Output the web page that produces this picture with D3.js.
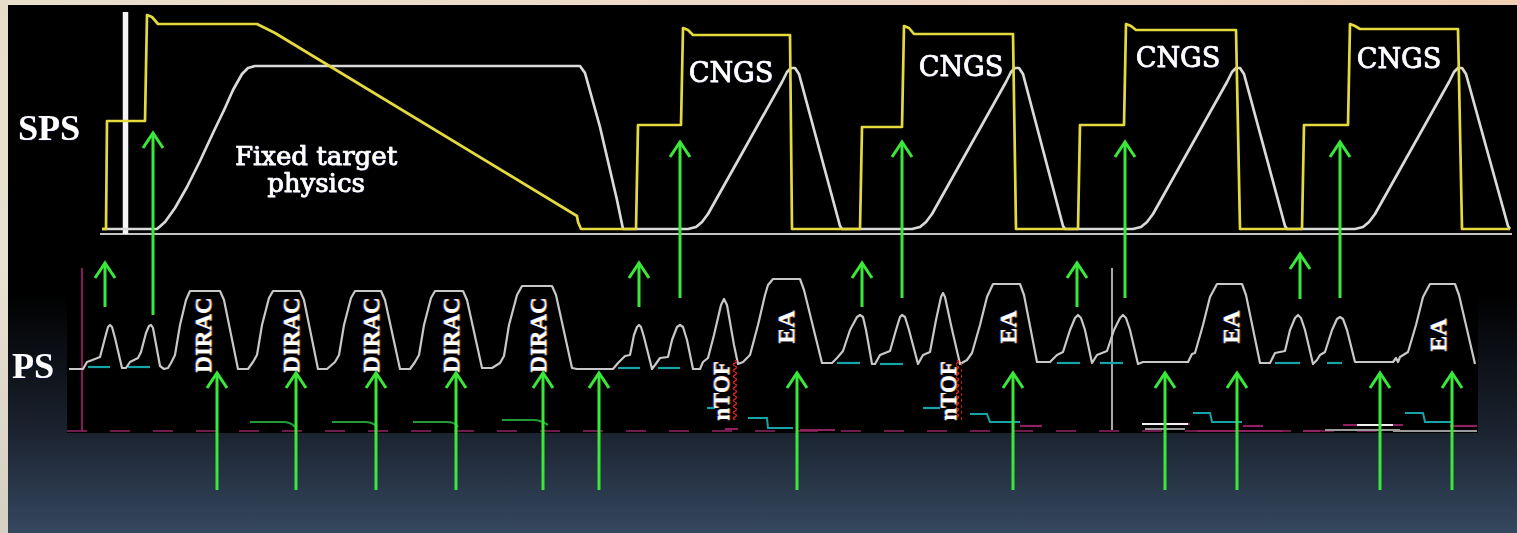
<!DOCTYPE html>
<html><head><meta charset="utf-8">
<script src="https://cdn.jsdelivr.net/npm/d3@7"></script>
<style>html,body{margin:0;padding:0;background:#e6dccb;overflow:hidden}</style>
</head><body>
<svg id="c" width="1517" height="533"></svg>
<script>
// ---------- DATA (time in arbitrary ticks, amplitudes in arbitrary units) ----------
const spsIntensity = [[42,0],[46,0],[47,108],[85,108],[87,214],[92,212],[98,205],[197,205],[205,201],[215,196],[517,13],[518,7],[521,0],
 [576,0],[578,104],[621,104],[623,201],[628,199],[633,194],[730,194],[732,0],
 [800,0],[802,102],[842,102],[844,203],[849,201],[854,195],[953,195],[956,0],
 [1018,0],[1020,104],[1064,104],[1066,205],[1071,203],[1076,199],[1176,199],[1180,0],
 [1242,0],[1244,104],[1288,104],[1290,205],[1295,203],[1300,200],[1398,200],[1402,0],[1450,0]];
const spsField = [[42,0],[97,0],[105,7],[115,21],[127,42],[140,68],[153,96],[165,121],[173,139],[182,155],[188,161],[195,163],[520,163],[525,156],[540,102],[557,29],[563,0],
 [628,0],[636,2],[642,7],[648,15],[685,81],[722,147],[727,157],[731,161],[735,161],[739,155],[780,3],[782,0],
 [852,0],[860,2],[866,7],[872,15],[909,81],[946,147],[951,157],[955,161],[959,161],[963,155],[1003,3],[1005,0],
 [1073,0],[1081,2],[1087,7],[1093,15],[1130,81],[1167,147],[1172,157],[1176,161],[1180,161],[1184,155],[1225,3],[1227,0],
 [1295,0],[1303,2],[1309,7],[1315,15],[1352,81],[1389,147],[1394,157],[1398,161],[1402,161],[1406,155],[1448,3],[1450,0]];
const psField = [[9,0],[23,0],[27,7],[35,10],[40,12],[45,31],[48,42],[50,44],[52,42],[55,31],[62,1],
 [66,1],[70,7],[78,11],[81,17],[86,36],[89,43],[91,44],[93,41],[100,3],[104,0],
 [108,1],[111,6],[115,14],[120,44],[126,69],[130,78],[160,78],[164,69],[178,0],
 [188,0],[193,7],[197,14],[202,44],[209,71],[213,78],[240,78],[244,69],[258,0],
 [267,0],[275,7],[279,14],[284,44],[291,71],[295,78],[321,78],[325,69],[340,0],
 [350,0],[355,7],[359,14],[364,44],[371,71],[375,78],[403,78],[407,69],[422,1],
 [432,1],[440,6],[444,13],[449,44],[457,74],[462,83],[492,83],[496,74],[512,1],
 [517,0],[553,0],[558,6],[565,13],[570,14],[574,34],[577,42],[579,44],[581,42],[584,32],[592,0],
 [595,4],[600,11],[608,12],[612,29],[617,42],[620,44],[623,42],[627,29],[633,0],
 [640,0],[643,7],[648,11],[654,34],[661,64],[664,70],[667,64],[674,24],[678,5],
 [683,7],[690,14],[698,44],[705,74],[708,84],[713,90],[740,90],[744,79],[762,6],
 [772,6],[777,11],[783,18],[790,39],[797,52],[800,54],[803,52],[806,39],[812,5],
 [815,5],[820,14],[830,18],[836,39],[840,52],[842,54],[845,52],[849,39],[858,5],
 [863,14],[870,17],[876,49],[881,72],[883,76],[885,72],[891,44],[900,5],
 [907,9],[912,16],[920,44],[927,72],[933,85],[960,85],[964,74],[977,7],
 [990,7],[997,14],[1003,17],[1010,39],[1015,51],[1018,54],[1021,51],[1025,39],[1032,6],
 [1037,14],[1047,18],[1054,39],[1060,51],[1063,54],[1066,51],[1070,39],[1078,5],
 [1083,7],[1128,7],[1132,15],[1135,16],[1143,44],[1150,72],[1157,85],[1182,85],[1186,74],[1200,6],
 [1210,6],[1215,16],[1225,18],[1230,39],[1235,51],[1238,54],[1241,51],[1245,39],[1253,5],
 [1257,9],[1260,14],[1265,17],[1272,39],[1277,50],[1280,52],[1283,50],[1287,39],[1295,7],
 [1333,7],[1336,11],[1338,7],[1340,12],[1348,17],[1356,44],[1363,72],[1370,85],[1395,85],[1399,74],[1415,5]];

const spsArrowT = [93,620,842,1065,1280], spsArrowTip = [97,88,88,88,88], spsArrowTail = [54,71,71,71,71];
const psShortT = [45,579,802,1017,1240], psShortTip = [107,107,107,107,116], psShortTail = [62,62,62,62,70];
const psLongT = [157,236,316,396,483,539,737,953,1105,1177,1320,1392], psLongTip = -3, psLongTail = -121;

const cngsLabels = [[671,147],[901,153],[1118,162],[1339,161]];
const fixedTargetLines = ["Fixed target","physics"], fixedTargetPos = [256,[64,37]];
const diracLabels = [[151,34],[239,34],[319,34],[399,34],[486,34]];
const eaLabels = [[734,42],[956,42],[1179,42],[1386,34]];
const ntofLabels = [[669,-22],[896,-22]];
const ntofWave = [[674,9,-51],[899,9,-51]];

const cyanDashes = [[28,50,2],[68,90,2],[558,580,1],[598,620,1],[777,800,6],[820,843,5],[997,1020,6],[1040,1063,6],[1215,1240,6],[1267,1282,6],[647,655,-39],[863,880,-39]];
const cyanSteps = [[[688,-49],[707,-49],[708,-59],[733,-59]],[[910,-45],[927,-45],[930,-53],[960,-53]],
 [[1133,-44],[1150,-44],[1152,-53],[1182,-53]],[[1345,-44],[1363,-44],[1365,-53],[1393,-53]]];
const diracSpill = [[190,223,235,-53,-58],[272,305,317,-53,-58],[353,387,398,-53,-58],[442,473,488,-51,-56]];
const magentaSegs = [[1100,1130,-55],[1183,1203,-57],[1137,1223,-62],[1243,1260,-62],[1283,1343,-56],[1390,1417,-57],[960,982,-57],[740,775,-61],[665,678,-60]];
const whiteSegs = [[1082,1128,-55],[1297,1333,-56]];
const graySegs = [[1085,1125,-60],[1265,1340,-61],[1333,1417,-62]];

// ---------- SCALES ----------
const x = d3.scaleLinear().domain([0,1450]).range([60,1510]);
const ySps = d3.scaleLinear().domain([0,214]).range([229,15]);
const yPs = d3.scaleLinear().domain([0,100]).range([369,269]);

const svg = d3.select("#c");
const defs = svg.append("defs");
const bg = defs.append("linearGradient").attr("id","bg").attr("gradientUnits","userSpaceOnUse").attr("x1",0).attr("y1",0).attr("x2",0).attr("y2",533);
[[0,"#000"],[0.55,"#000"],[0.81,"#1b2330"],[1,"#35485f"]].forEach(s=>bg.append("stop").attr("offset",s[0]).attr("stop-color",s[1]));
const tg = defs.append("linearGradient").attr("id","tg").attr("x1",0).attr("x2",1).attr("y1",0).attr("y2",0);
[[0,"#e8dfcd"],[0.45,"#eedacb"],[1,"#f0cfb3"]].forEach(s=>tg.append("stop").attr("offset",s[0]).attr("stop-color",s[1]));
const lg = defs.append("linearGradient").attr("id","lg").attr("x1",0).attr("x2",0).attr("y1",0).attr("y2",1);
[[0,"#e6dcc8"],[0.5,"#e9e1d2"],[1,"#d6d0c2"]].forEach(s=>lg.append("stop").attr("offset",s[0]).attr("stop-color",s[1]));
const sh = defs.append("filter").attr("id","sh").attr("x","-10%").attr("y","-20%").attr("width","120%").attr("height","140%");
sh.append("feDropShadow").attr("dx",0.8).attr("dy",0.8).attr("stdDeviation",0.7).attr("flood-color","#0a1040").attr("flood-opacity",0.9);

// backdrop
svg.append("rect").attr("width",1517).attr("height",533).attr("fill","url(#tg)");
svg.append("rect").attr("width",8).attr("height",533).attr("fill","url(#lg)");
svg.append("rect").attr("x",8).attr("y",5).attr("width",1509).attr("height",528).attr("fill","url(#bg)");
svg.append("rect").attr("x",8).attr("y",5).attr("width",1502).attr("height",250).attr("fill","#000");
svg.append("rect").attr("x",x(7)).attr("y",255).attr("width",x(1418)-x(7)).attr("height",yPs(-64)-255).attr("fill","#000");

const lineSps = d3.line().x(d=>x(d[0])).y(d=>ySps(d[1]));
const linePs = d3.line().x(d=>x(d[0])).y(d=>yPs(d[1]));

// SPS
svg.append("line").attr("x1",x(40)).attr("x2",x(1452)).attr("y1",ySps(-5)).attr("y2",ySps(-5)).attr("stroke","#c4c4c4").attr("stroke-width",2);
svg.append("line").attr("x1",x(65.5)).attr("x2",x(65.5)).attr("y1",ySps(217)).attr("y2",ySps(-5)).attr("stroke","#f4f4f4").attr("stroke-width",5.5);
svg.append("path").attr("d",lineSps(spsField)).attr("fill","none").attr("stroke","#dadada").attr("stroke-width",2.7).attr("stroke-linejoin","round");
svg.append("path").attr("d",lineSps(spsIntensity)).attr("fill","none").attr("stroke","#e4da3e").attr("stroke-width",2.7).attr("stroke-linejoin","round");

// PS extras
svg.append("line").attr("x1",x(7)).attr("x2",x(1418)).attr("y1",yPs(-62)).attr("y2",yPs(-62)).attr("stroke","#6e1a4a").attr("stroke-width",2).attr("stroke-dasharray","20 23");
svg.append("line").attr("x1",x(22)).attr("x2",x(22)).attr("y1",yPs(101)).attr("y2",yPs(-63)).attr("stroke","#7e1f52").attr("stroke-width",2.2);
svg.append("line").attr("x1",x(1052)).attr("x2",x(1052)).attr("y1",yPs(101)).attr("y2",yPs(-61)).attr("stroke","#a8a8a8").attr("stroke-width",2);
const segs = (arr,col,w)=>svg.append("g").selectAll("line").data(arr).join("line")
  .attr("x1",d=>x(d[0])).attr("x2",d=>x(d[1])).attr("y1",d=>yPs(d[2])).attr("y2",d=>yPs(d[2])).attr("stroke",col).attr("stroke-width",w);
segs(graySegs,"#9a9a9a",2);
segs(magentaSegs,"#8e2160",2.2);
segs(whiteSegs,"#f0f0f0",2);
segs(cyanDashes,"#17a4a8",2.2);
svg.append("g").selectAll("path").data(cyanSteps).join("path").attr("d",d=>linePs(d)).attr("fill","none").attr("stroke","#17a4a8").attr("stroke-width",2);
svg.append("g").selectAll("path").data(diracSpill).join("path")
  .attr("d",d=>`M${x(d[0])},${yPs(d[3])}L${x(d[1])},${yPs(d[3])}Q${x(d[1]+8)},${yPs(d[3])} ${x(d[2])},${yPs(d[4])}`)
  .attr("fill","none").attr("stroke","#1f9c38").attr("stroke-width",2.2);

svg.append("path").attr("d",linePs(psField)).attr("fill","none").attr("stroke","#c8c8c8").attr("stroke-width",2.2).attr("stroke-linejoin","round");

// nTOF wave
defs.append("pattern").attr("id","wave").attr("patternUnits","userSpaceOnUse").attr("width",6).attr("height",6)
  .append("path").attr("d","M3,0 Q6,1.5 3,3 Q0,4.5 3,6").attr("fill","none").attr("stroke","#e02020").attr("stroke-width",1.4);
svg.append("g").selectAll("rect").data(ntofWave).join("rect")
  .attr("x",d=>x(d[0])-3).attr("width",6).attr("y",d=>yPs(d[1])).attr("height",d=>yPs(d[2])-yPs(d[1])).attr("fill","url(#wave)");

// rotated labels
function rotLabels(data, txt, size){
  const g = svg.append("g").selectAll("g").data(data).join("g")
    .attr("transform",d=>`translate(${x(d[0])},${yPs(d[1])}) rotate(-90)`)
    .attr("font-family","'Liberation Serif', serif").attr("font-weight","bold").attr("font-size",size).attr("text-anchor","middle");
  g.append("text").attr("y",-1.2).attr("fill","#3a5ad0").text(txt);
  g.append("text").attr("y",1.2).attr("fill","#d88a2a").text(txt);
  g.append("text").attr("fill","#fff").text(txt);
}
rotLabels(diracLabels,"DIRAC",23);
rotLabels(eaLabels,"EA",24);
rotLabels(ntofLabels,"nTOF",23);

// SPS texts
svg.append("g").selectAll("text").data(cngsLabels).join("text")
  .attr("x",d=>x(d[0])).attr("y",d=>ySps(d[1])).attr("text-anchor","middle")
  .attr("font-family","'DejaVu Serif', serif").attr("font-size",27).attr("fill","#fff")
  .attr("stroke","#fff").attr("stroke-width",0.7).attr("filter","url(#sh)").text("CNGS");
svg.append("g").selectAll("text").data(fixedTargetLines).join("text")
  .attr("x",x(fixedTargetPos[0])).attr("y",(d,i)=>ySps(fixedTargetPos[1][i])).attr("text-anchor","middle")
  .attr("font-family","'DejaVu Serif', serif").attr("font-size",26).attr("fill","#fff")
  .attr("stroke","#fff").attr("stroke-width",0.7).attr("filter","url(#sh)").text(d=>d);

svg.append("text").attr("x",18).attr("y",140).attr("font-family","'Liberation Serif', serif").attr("font-weight","bold")
  .attr("font-size",36).attr("fill","#fff").attr("filter","url(#sh)").text("SPS");
svg.append("text").attr("x",12).attr("y",378).attr("font-family","'Liberation Serif', serif").attr("font-weight","bold")
  .attr("font-size",36).attr("fill","#fff").attr("filter","url(#sh)").text("PS");

// arrows
const G = "#3ae83a";
function arrow(xp, yTip, yTail){
  svg.append("line").attr("x1",xp).attr("x2",xp).attr("y1",yTip+1).attr("y2",yTail).attr("stroke",G).attr("stroke-width",3);
  svg.append("path").attr("d",`M${xp-10},${yTip+16}L${xp},${yTip+1}L${xp+10},${yTip+16}`).attr("fill","none").attr("stroke",G).attr("stroke-width",3);
}
spsArrowT.forEach((t,i)=>arrow(x(t), ySps(spsArrowTip[i]), yPs(spsArrowTail[i])));
psShortT.forEach((t,i)=>arrow(x(t), yPs(psShortTip[i]), yPs(psShortTail[i])));
psLongT.forEach(t=>arrow(x(t), yPs(psLongTip), yPs(psLongTail)));
</script>
</body></html>
